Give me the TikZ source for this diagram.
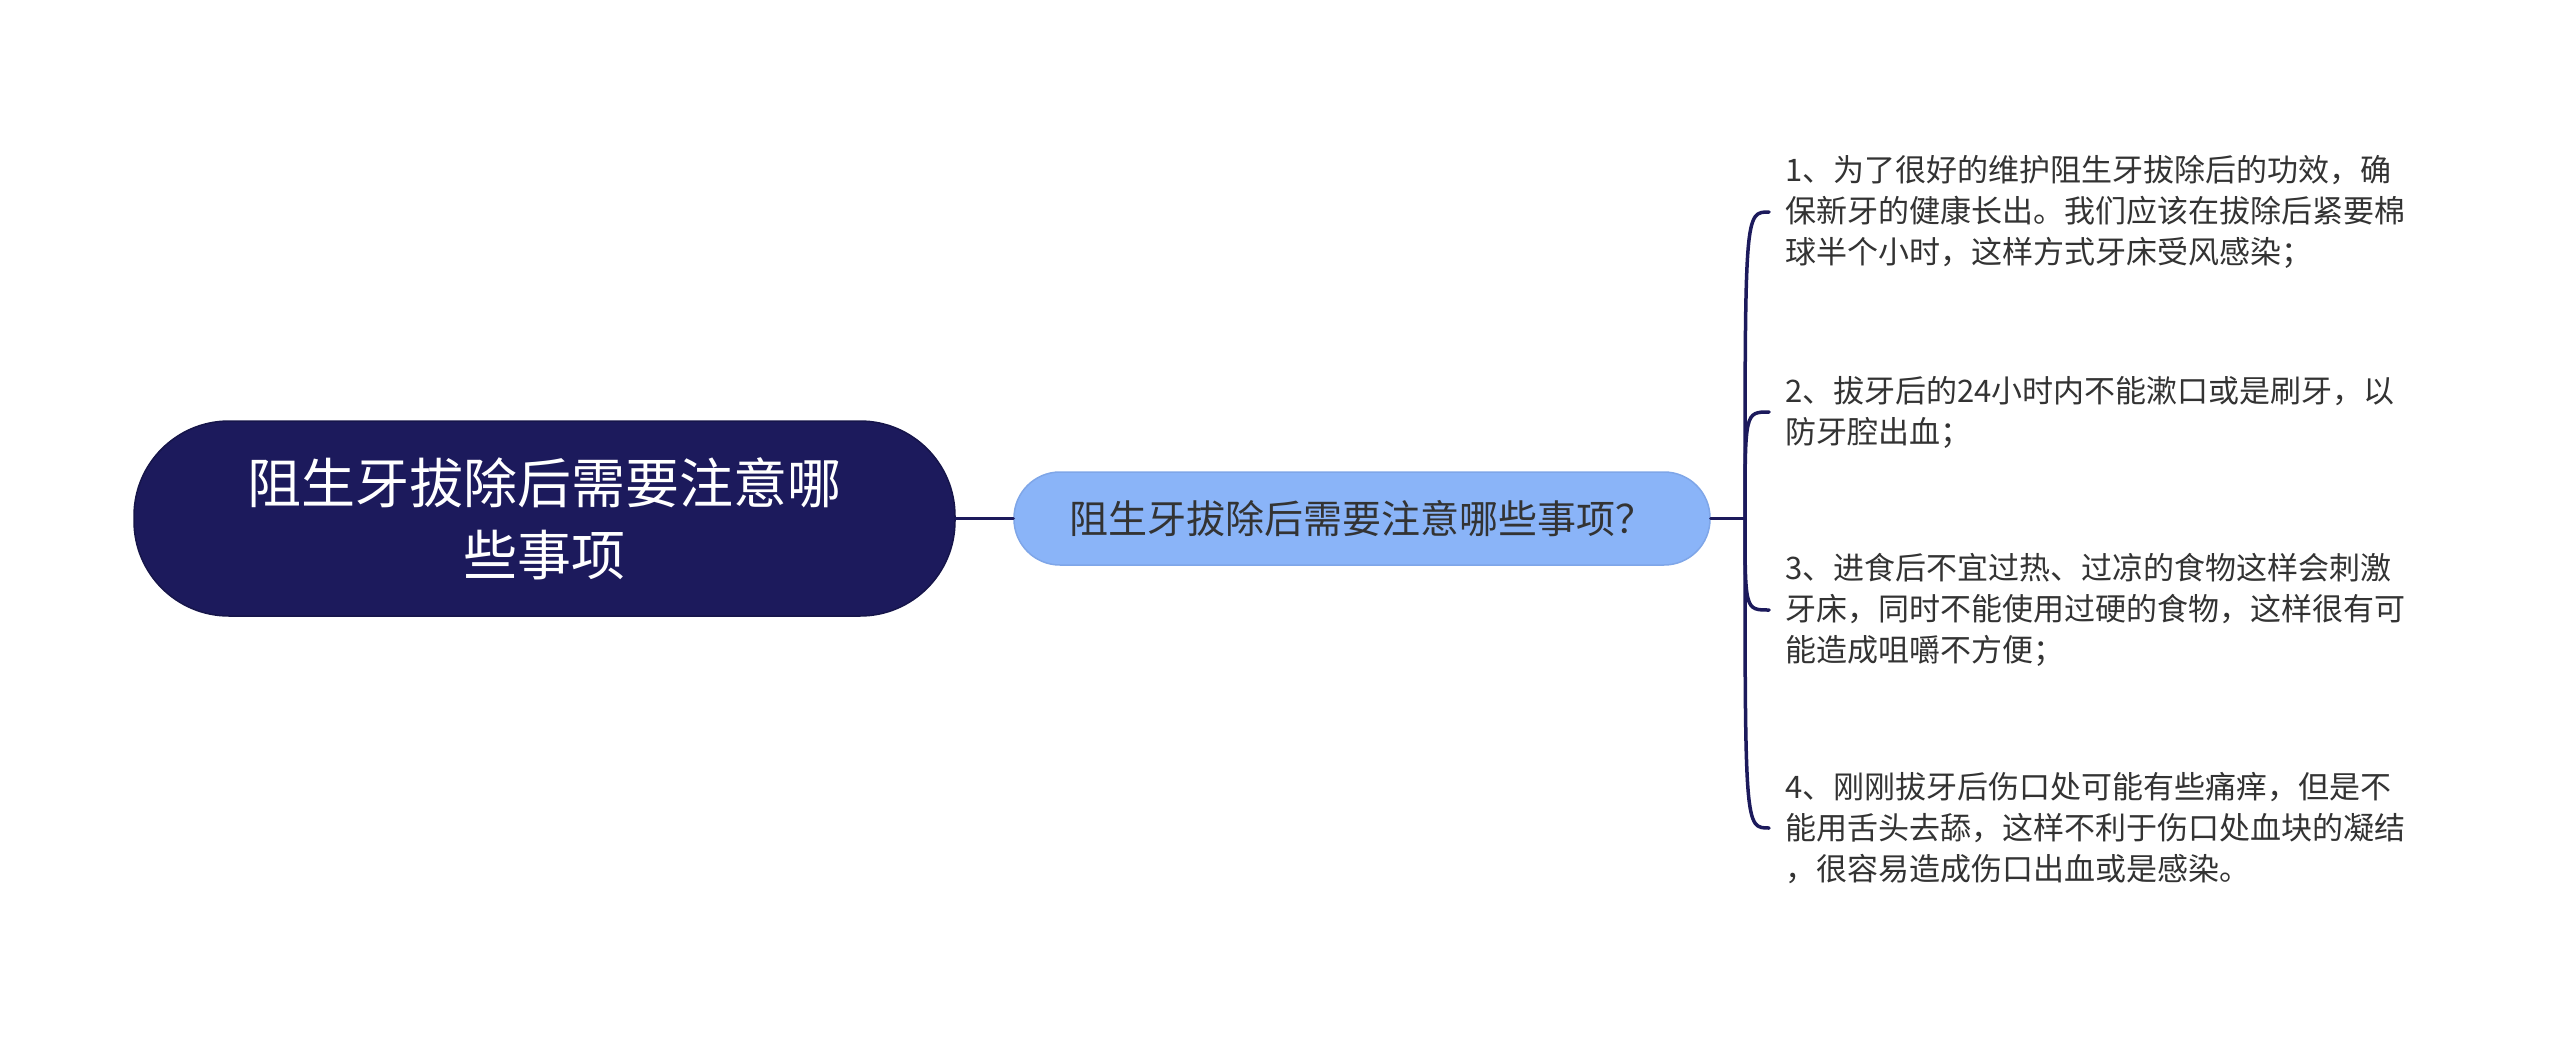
\documentclass[tikz,border=0pt]{standalone}
\usepackage{fontspec}
\newfontfamily\cjk{Noto Sans CJK SC}
\definecolor{navy}{HTML}{1C1A5C}
\definecolor{midblue}{HTML}{8AB4F8}
\definecolor{midborder}{HTML}{7FA6E8}
\definecolor{txt}{HTML}{333333}
\begin{document}
\begin{tikzpicture}[x=1pt,y=-1pt,
  rootbox/.style={draw=navy!80!black, line width=1.5pt, fill=navy, text=white,
    minimum width=821pt, minimum height=195pt, rounded corners=95pt,
    align=center, inner sep=0pt,
    font=\cjk\fontsize{54pt}{72pt}\selectfont},
  midbox/.style={draw=midborder, line width=1.5pt, fill=midblue, text=txt,
    minimum width=696pt, minimum height=93pt, rounded corners=46pt,
    align=center, inner sep=0pt,
    font=\cjk\fontsize{39pt}{46pt}\selectfont},
  leaf/.style={anchor=west, align=left, inner sep=0pt, text=txt,
    font=\cjk\fontsize{31pt}{41pt}\selectfont},
  conn/.style={draw=navy, line width=3.5pt, line cap=round}
]
\useasboundingbox[fill=white] (0,0) rectangle (2560,1037);

\node[rootbox] (root) at (544.5,518.5) {阻生牙拔除后需要注意哪\\些事项};
\node[midbox] (mid) at (1362,518.5) {阻生牙拔除后需要注意哪些事项？};
\coordinate (hub) at (1745,518.5);

\node[leaf] (l1) at (1785,212) {1、为了很好的维护阻生牙拔除后的功效，确\\保新牙的健康长出。我们应该在拔除后紧要棉\\球半个小时，这样方式牙床受风感染；};
\node[leaf] (l2) at (1785,412) {2、拔牙后的24小时内不能漱口或是刷牙，以\\防牙腔出血；};
\node[leaf] (l3) at (1785,610) {3、进食后不宜过热、过凉的食物这样会刺激\\牙床，同时不能使用过硬的食物，这样很有可\\能造成咀嚼不方便；};
\node[leaf] (l4) at (1785,828) {4、刚刚拔牙后伤口处可能有些痛痒，但是不\\能用舌头去舔，这样不利于伤口处血块的凝结\\，很容易造成伤口出血或是感染。};

\draw[conn] (root.east) -- (mid.west);
\draw[conn] (mid.east) -- (hub);
\foreach \l in {l1,l2,l3,l4}{
  \draw[conn] (hub) .. controls (hub |- \l.west) .. ([xshift=-16pt]\l.west);
}
\end{tikzpicture}
\end{document}
